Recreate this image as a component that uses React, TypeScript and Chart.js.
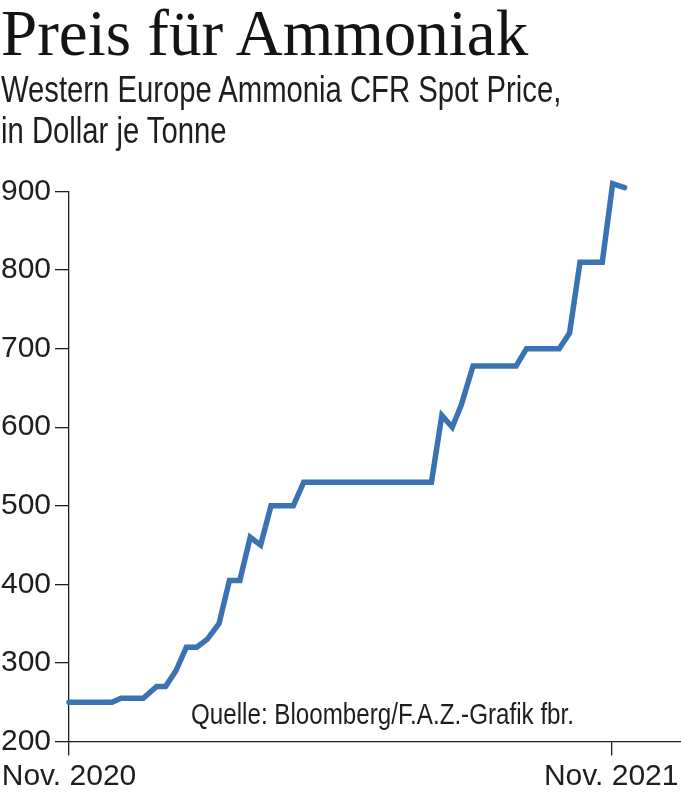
import { useEffect, useRef } from "react";
import { Chart, registerables } from "chart.js";

Chart.register(...registerables);

// Weekly spot price readings, x = days since 1 Nov 2020
const dayOffsets = [0, 29, 35, 50, 59, 65, 72, 79, 86, 93, 101, 108, 115, 122, 129, 136, 151, 158, 244, 251, 258, 264, 272, 301, 308, 330, 337, 344, 359, 366, 374];
const prices = [250, 250, 255, 255, 270, 270, 290, 320, 320, 330, 350, 405, 405, 460, 450, 500, 500, 530, 530, 615, 600, 628, 678, 678, 700, 700, 720, 810, 810, 910, 905];

const xTickDays = [0, 365];
const xTickLabels = ["Nov. 2020", "Nov. 2021"];
const yTickValues = [200, 300, 400, 500, 600, 700, 800, 900];

const title = "Preis für Ammoniak";
const subtitleLines = ["Western Europe Ammonia CFR Spot Price,", "in Dollar je Tonne"];
const sourceNote = "Quelle: Bloomberg/F.A.Z.-Grafik fbr.";

const LINE_BLUE = "#3b72b4";
const INK = "#1e1e1e";
const SANS = "'Liberation Sans', Arial, sans-serif";

export default function App() {
  const canvasRef = useRef<HTMLCanvasElement | null>(null);

  useEffect(() => {
    const canvas = canvasRef.current;
    if (!canvas) return;
    const chart = new Chart(canvas, {
      type: "line",
      data: {
        datasets: [
          {
            data: dayOffsets.map((d, i) => ({ x: d, y: prices[i] })),
            borderColor: LINE_BLUE,
            borderWidth: 5.5,
            pointRadius: 0,
            tension: 0,
            fill: false,
            clip: false,
            borderCapStyle: "round",
            borderJoinStyle: "miter",
          },
        ],
      },
      options: {
        animation: false,
        responsive: false,
        maintainAspectRatio: false,
        layout: { padding: { top: 191.5, left: 0, right: 0, bottom: 0 } },
        plugins: { legend: { display: false }, tooltip: { enabled: false } },
        scales: {
          x: {
            type: "linear",
            min: 0,
            max: 412,
            grid: { drawOnChartArea: false, drawTicks: true, tickLength: 14, color: INK, lineWidth: 1.3 },
            border: { color: INK, width: 1.3 },
            ticks: {
              autoSkip: false,
              maxRotation: 0,
              padding: 3,
              color: INK,
              font: { family: SANS, size: 30 },
              callback: (value: any) => {
                const idx = xTickDays.indexOf(Number(value));
                return idx >= 0 ? xTickLabels[idx] : "";
              },
            },
            afterBuildTicks: (scale: any) => {
              scale.ticks = xTickDays.map((v) => ({ value: v }));
            },
            afterFit: (scale: any) => {
              scale.height = 55.5;
              scale.paddingLeft = 0;
              scale.paddingRight = 0;
            },
          },
          y: {
            type: "linear",
            min: 200,
            max: 900,
            grid: { drawOnChartArea: false, drawTicks: true, tickLength: 14, color: INK, lineWidth: 1.3 },
            border: { color: INK, width: 1.3 },
            ticks: {
              padding: 4,
              color: INK,
              font: { family: SANS, size: 30 },
              callback: (value: any) => String(value),
            },
            afterBuildTicks: (scale: any) => {
              scale.ticks = yTickValues.map((v) => ({ value: v }));
            },
            afterFit: (scale: any) => {
              scale.width = 69;
            },
          },
        },
      },
    });
    return () => chart.destroy();
  }, []);

  return (
    <div style={{ position: "absolute", left: 0, top: 0, width: 681, height: 797, background: "#fff", overflow: "hidden" }}>
      <canvas ref={canvasRef} width={681} height={797} style={{ position: "absolute", left: 0, top: 0, width: 681, height: 797 }} />
      <div
        style={{
          position: "absolute",
          left: 1,
          top: 0.6,
          fontFamily: "'Liberation Serif', 'Times New Roman', serif",
          fontSize: 65,
          lineHeight: "65px",
          color: "#141414",
          whiteSpace: "nowrap",
        }}
      >
        {title}
      </div>
      <div
        style={{
          position: "absolute",
          left: 1,
          top: 69.4,
          fontFamily: SANS,
          fontSize: 37.5,
          lineHeight: "40.7px",
          color: INK,
          whiteSpace: "nowrap",
          transform: "scaleX(0.78)",
          transformOrigin: "0 0",
        }}
      >
        {subtitleLines.map((line) => (
          <div key={line}>{line}</div>
        ))}
      </div>
      <div
        style={{
          position: "absolute",
          left: 191,
          top: 698.9,
          fontFamily: SANS,
          fontSize: 30,
          lineHeight: "30px",
          color: INK,
          whiteSpace: "nowrap",
          transform: "scaleX(0.806)",
          transformOrigin: "0 0",
        }}
      >
        {sourceNote}
      </div>
    </div>
  );
}
